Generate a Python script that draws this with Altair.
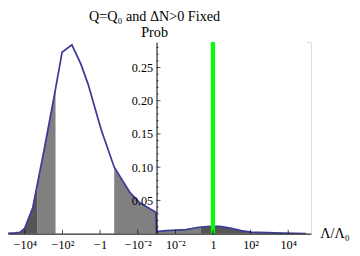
import math
import altair as alt
import pandas as pd

# Curve: x in signed-log position  sign(v)*(log10|v|+3), y = probability
curve_x = [-8.05, -7.53, -7.27, -7.01, -6.58, -5.97, -5.40, -5.02, -4.50, -4.02, -3.64,
           -2.95, -2.25, -1.39, -0.87, -0.04, 0.0, 0.52, 1.56, 2.25, 2.86, 3.38, 3.98,
           4.50, 5.02, 6.75, 7.95]
curve_p = [0.0, 0.001, 0.002, 0.008, 0.039, 0.127, 0.213, 0.273, 0.284, 0.255, 0.225,
           0.157, 0.100, 0.061, 0.046, 0.032, 0.003, 0.0047, 0.006, 0.0096, 0.011, 0.011, 0.008,
           0.0047, 0.0022, 0.0007, 0.0]

# Shaded regions (signed-log position)
region_start = [-8.05, -6.35, -2.25, 2.34]
region_end = [-6.35, -5.37, 2.34, 7.85]
region_shade = ["dark", "mid", "mid", "dark"]

# Axis ticks
x_tick_values = [-1e4, -1e2, -1.0, -1e-2, 1e-2, 1.0, 1e2, 1e4]
x_tick_labels = ["\u221210\u2074", "\u221210\u00b2", "\u22121", "\u221210\u207b\u00b2",
                 "10\u207b\u00b2", "1", "10\u00b2", "10\u2074"]
y_major = [0.05, 0.10, 0.15, 0.20, 0.25]
y_minor = [0.01, 0.02, 0.03, 0.04, 0.06, 0.07, 0.08, 0.09, 0.11, 0.12, 0.13, 0.14,
           0.16, 0.17, 0.18, 0.19, 0.21, 0.22, 0.23, 0.24, 0.26, 0.27, 0.28]
marker_value = [1.0]


def slog(v):
    return math.copysign(math.log10(abs(v)) + 3, v)


X_MIN, X_MAX = -7.896, 8.208
Y_MAX = 0.2882
FONT = "Liberation Serif"

curve_df = pd.DataFrame({"x": curve_x, "p": curve_p})
region_df = pd.DataFrame({"x0": region_start, "x1": region_end, "shade": region_shade})
xt = [slog(v) for v in x_tick_values]
xtick_df = pd.DataFrame({"x": xt})
ymaj_df = pd.DataFrame({"y": y_major})
ymin_df = pd.DataFrame({"y": y_minor})
marker_df = pd.DataFrame({"x": [slog(v) for v in marker_value]})

expr = "''"
for v, lab in zip(reversed(xt), reversed(x_tick_labels)):
    expr = f"abs(datum.value - ({v})) < 0.01 ? '{lab}' : ({expr})"

xscale = alt.Scale(domain=[X_MIN, X_MAX], nice=False, zero=False)
yscale = alt.Scale(domain=[0, Y_MAX], nice=False, zero=False)

xaxis = alt.Axis(values=xt, labelExpr=expr, ticks=False, grid=False, labelPadding=5,
                 labelFont=FONT, labelFontSize=12.5, labelColor="black", domainColor="black",
                 domainWidth=1, title="\u039b/\u039b\u2080", titleFont=FONT, titleFontSize=14.5,
                 titleFontWeight="normal", titleColor="black", titleX=319, titleY=0,
                 titleAlign="left", titleBaseline="middle", titleAngle=0, zindex=1)
yaxis = alt.Axis(values=y_major, format=".2f", ticks=False, grid=False, offset=-152,
                 labelPadding=4, labelFont=FONT, labelFontSize=12.5, labelColor="black",
                 domainColor="black", domainWidth=1, title=None, zindex=1)

regions = alt.Chart(region_df).mark_rect(clip=True).encode(
    x=alt.X("x0:Q", scale=xscale, axis=xaxis),
    x2="x1:Q",
    y=alt.Y(datum=0, scale=yscale, axis=yaxis),
    y2=alt.datum(Y_MAX),
    color=alt.Color("shade:N", scale=alt.Scale(domain=["dark", "mid"], range=["#555555", "#808080"]),
                    legend=None),
)

mask = alt.Chart(curve_df).mark_area(color="white", clip=True).encode(
    x=alt.X("x:Q", scale=xscale), y=alt.Y("p:Q", scale=yscale), y2=alt.datum(Y_MAX)
)

line = alt.Chart(curve_df).mark_line(color="#3d3d99", strokeWidth=1.8, clip=True).encode(
    x=alt.X("x:Q", scale=xscale), y=alt.Y("p:Q", scale=yscale)
)

marker = alt.Chart(marker_df).mark_rule(color="#00ff00", strokeWidth=4.3).encode(
    x=alt.X("x:Q", scale=xscale)
)

xticks = alt.Chart(xtick_df).mark_tick(orient="vertical", size=4, thickness=1, yOffset=-2,
                                       color="black").encode(
    x=alt.X("x:Q", scale=xscale), y=alt.Y(datum=0, scale=yscale)
)
ymaj = alt.Chart(ymaj_df).mark_tick(orient="horizontal", size=4, thickness=1, xOffset=2,
                                    color="black").encode(
    x=alt.X(datum=0, scale=xscale), y=alt.Y("y:Q", scale=yscale)
)
ymin = alt.Chart(ymin_df).mark_tick(orient="horizontal", size=2, thickness=1, xOffset=1,
                                    color="black").encode(
    x=alt.X(datum=0, scale=xscale), y=alt.Y("y:Q", scale=yscale)
)

chart = alt.layer(regions, mask, line, marker, xticks, ymaj, ymin).properties(
    width=310, height=196,
    autosize=alt.AutoSizeParams(type="none"),
    padding={"left": 0, "top": 32, "right": 42, "bottom": 20},
    title=alt.TitleParams(text="Q=Q\u2080 and \u0394N>0 Fixed", subtitle="Prob", anchor="middle",
                          frame="group", font=FONT, fontSize=14.5, fontWeight="normal",
                          color="black", subtitleFont=FONT, subtitleFontSize=14.5,
                          subtitleColor="black", subtitlePadding=1, offset=0, dx=-5),
).configure_view(stroke=None).configure(background="white")

chart.save("out.html", embed_options={"renderer": "svg", "actions": False})
